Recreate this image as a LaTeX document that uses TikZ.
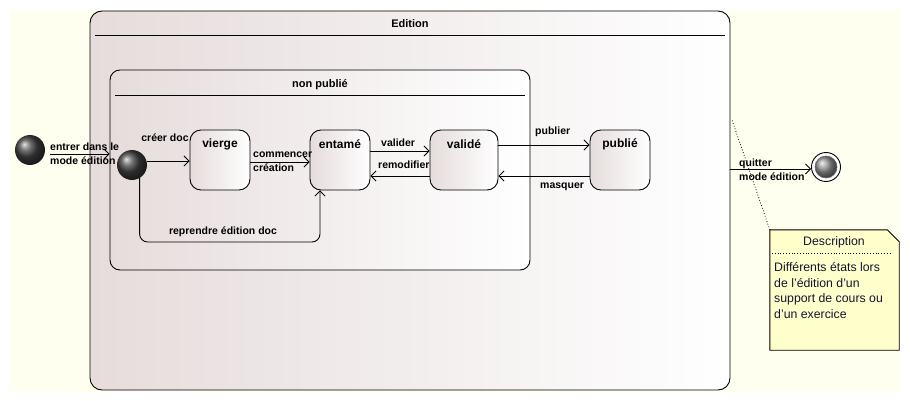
\documentclass[tikz,border=0pt]{standalone}
\usepackage{fontspec}
\setmainfont{Liberation Sans}
\usetikzlibrary{arrows.meta,shapes.geometric}
\definecolor{bgyellow}{RGB}{255,255,240}
\definecolor{pinkgray}{RGB}{230,220,220}
\definecolor{notefill}{RGB}{255,255,204}
\definecolor{notetext}{RGB}{20,20,50}
\begin{document}
\begin{tikzpicture}[x=1pt,y=-1pt,
  arr/.style={draw=black, line width=0.9pt, -{Straight Barb[length=5pt,width=10pt]}},
  comp/.style={draw=black, line width=0.9pt, left color=pinkgray, right color=white, inner sep=0},
  stbox/.style={draw=black, line width=0.9pt, rounded corners=11pt, left color=pinkgray, right color=white,
                minimum width=60pt, minimum height=60pt, inner sep=0},
  lbl/.style={font=\bfseries\fontsize{10.5}{14}\selectfont, inner sep=0, align=left},
  sttl/.style={font=\bfseries\fontsize{12}{14}\selectfont, inner sep=0},
  cttl/.style={font=\bfseries\fontsize{11}{14}\selectfont, inner sep=0},
  initst/.style={circle, minimum size=30pt, inner sep=0, ball color=black!75},
  notetxt/.style={font=\fontsize{12.3}{15.8}\selectfont, text=notetext, inner sep=0, align=left}
]
\useasboundingbox (0,0) rectangle (910,401);
\fill[bgyellow] (10,10) rectangle (900,392);

% composite states
\node[comp, rounded corners=12pt, minimum width=640pt, minimum height=379pt] (edition) at (410,200.5) {};
\node[cttl] (editionT) at (410,24) {Edition};
\draw[line width=0.9pt] (95,35) -- (725,35);

\node[comp, rounded corners=10pt, minimum width=420pt, minimum height=200pt] (nonpub) at (320,170) {};
\node[cttl] (nonpubT) at (320,85) {non publié};
\draw[line width=0.9pt] (115,95) -- (525,95);

% initial states
\node[initst] (init1) at (30,150) {};
\node[initst] (init2) at (132,165) {};

% simple states
\node[stbox] (vierge) at (220,160) {};
\node[stbox] (entame) at (340,160) {};
\node[stbox, minimum width=68pt] (valide) at (464,160) {};
\node[stbox] (publie) at (620,160) {};
\node[sttl] at ([yshift=-15pt]vierge.north) {vierge};
\node[sttl] at ([yshift=-15pt]entame.north) {entamé};
\node[sttl] at ([yshift=-15pt]valide.north) {validé};
\node[sttl] at ([yshift=-15pt]publie.north) {publié};

% final state
\node[circle, draw=black, line width=0.9pt, fill=white, minimum size=29pt, inner sep=0] (final) at (826,167) {};
\node[circle, ball color=gray!85, draw=black!60, line width=0.6pt, minimum size=22pt, inner sep=0] (finalIn) at (final) {};

% note
\node[minimum width=129pt, minimum height=120pt, inner sep=0] (note) at (834.5,290) {};
\filldraw[fill=notefill, draw=black, line width=0.9pt]
  (note.north west) -- ([xshift=-12pt]note.north east) -- ([yshift=-12pt]note.north east)
  -- (note.south east) -- (note.south west) -- cycle;
\node[font=\fontsize{12.3}{15}\selectfont, text=notetext, inner sep=0] (noteT) at (834,242) {Description};
\draw[dotted, line width=0.8pt] (772,253) -- (892,253);
\node[notetxt, anchor=north west] (noteB) at (774,262) {Différents états lors\\de l'édition d'un\\support de cours ou\\d'un exercice};
\coordinate (noteAnchor) at (732,120);
\draw[dotted, line width=0.8pt] (note.north west) -- (noteAnchor);

% transitions
\draw[arr, shorten <=5pt] ([yshift=-4pt]init1.east) -- ([yshift=-4pt]init1.east -| nonpub.west);
\node[lbl, anchor=west] at (50,154) {entrer dans le\\mode édition};

\draw[arr] ([yshift=4pt]init2.east) -- ([yshift=4pt]init2.east -| vierge.west);
\node[lbl] at (165,138) {créer doc};

\draw[arr] ([yshift=-2pt]vierge.east) -- ([yshift=-2pt]entame.west);
\node[lbl, anchor=west] at (253,161.5) {commencer\\création};

\draw[arr] ([yshift=9pt]entame.east) -- ([yshift=9pt]valide.west);
\node[lbl, anchor=west] at (381,143) {valider};
\draw[arr] ([yshift=-16pt]valide.west) -- ([yshift=-16pt]entame.east);
\node[lbl, anchor=west] at (378,165) {remodifier};

\draw[arr] ([yshift=15pt]valide.east) -- ([yshift=15pt]publie.west);
\node[lbl, anchor=west] at (535,132) {publier};
\draw[arr] ([yshift=-16pt]publie.west) -- ([yshift=-16pt]valide.east);
\node[lbl, anchor=west] at (540,187) {masquer};

\coordinate (loopY) at (0,242);
\draw[arr, rounded corners=8pt] (init2.-60) -- (init2.-60 |- loopY) -| ([xshift=-20pt]entame.south);
\node[lbl] at (223,232) {reprendre édition doc};

\draw[arr] ([yshift=-2pt]edition.east |- final) -- ([yshift=-2pt]final.west);
\node[lbl, anchor=west] at (739,169.5) {quitter\\mode édition};
\end{tikzpicture}
\end{document}
